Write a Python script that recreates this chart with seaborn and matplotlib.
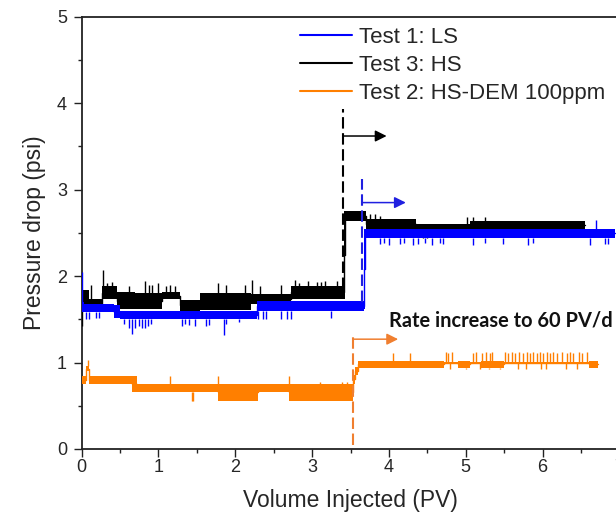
import numpy as np
import pandas as pd
import matplotlib
matplotlib.use("Agg")
import matplotlib.pyplot as plt
import seaborn as sns

# ---------------- data ----------------
# Test 1: LS  (blue) -- band segments: breakpoints, band low, band high
ls_x  = [0.00, 0.03, 0.42, 0.50, 2.28, 3.67, 3.69, 6.95]
ls_lo = [1.58, 1.59, 1.52, 1.50, 1.60, 1.62, 2.44]
ls_hi = [1.70, 1.68, 1.66, 1.60, 1.71, 2.55, 2.55]
ls_up_x = [0.01, 6.70]
ls_up_y = [2.05, 2.65]
ls_dn_x = [0.05, 0.10, 0.18, 0.22, 0.55, 0.62, 0.66, 0.70, 0.74, 0.78, 0.82, 0.86, 0.90,
           1.30, 1.34, 1.40, 1.48, 1.62, 1.66, 1.85, 1.88, 2.05, 2.30, 2.36, 2.40, 2.60,
           2.67, 2.72, 3.24,
           3.89, 3.93, 4.00, 4.15, 4.20, 4.31, 4.38, 4.47, 4.56, 4.66, 4.70, 5.10, 5.25,
           5.48, 5.81, 5.88, 6.62, 6.81, 6.85]
ls_dn_y = [1.50, 1.50, 1.51, 1.51, 1.45, 1.40, 1.33, 1.40, 1.42, 1.40, 1.40, 1.42, 1.45,
           1.42, 1.44, 1.43, 1.42, 1.42, 1.43, 1.32, 1.45, 1.47, 1.50, 1.50, 1.50, 1.50,
           1.50, 1.50, 1.52,
           2.37, 2.38, 2.36, 2.37, 2.38, 2.36, 2.37, 2.38, 2.36, 2.38, 2.37, 2.36, 2.38,
           2.37, 2.36, 2.38, 2.36, 2.37, 2.37]

# Test 3: HS  (black)
hs_x  = [0.00, 0.10, 0.26, 0.46, 0.70, 1.05, 1.28, 1.54, 2.20, 2.72, 3.41, 3.43, 3.70,
         4.35, 5.05, 6.55]
hs_lo = [1.60, 1.61, 1.73, 1.62, 1.62, 1.73, 1.60, 1.61, 1.68, 1.74, 1.74, 2.64, 2.55,
         2.48, 2.53]
hs_hi = [1.84, 1.74, 1.88, 1.81, 1.80, 1.81, 1.72, 1.80, 1.79, 1.88, 2.75, 2.75, 2.66,
         2.60, 2.64]
hs_up_x = [0.12, 0.28, 0.33, 0.40, 0.62, 0.82, 0.88, 0.92, 1.00, 1.10, 1.15, 1.22, 1.78,
           1.88, 2.12, 2.22, 2.32, 2.60, 2.78, 2.83, 2.95, 3.07, 3.12, 3.17, 3.32,
           3.75, 3.82, 3.88, 5.02, 5.10, 5.25]
hs_up_y = [1.90, 2.07, 1.92, 1.93, 1.88, 1.94, 1.90, 1.90, 1.92, 1.88, 1.90, 1.88, 1.92,
           1.90, 1.90, 1.95, 1.88, 1.90, 1.95, 1.92, 1.94, 1.93, 1.93, 1.94, 1.94,
           2.72, 2.72, 2.70, 2.68, 2.68, 2.68]
hs_dn_x = [0.00, 4.45, 4.50]
hs_dn_y = [1.42, 2.44, 2.44]

# Test 2: HS-DEM 100ppm  (orange)
dem_x  = [0.00, 0.06, 0.10, 0.65, 0.72, 1.78, 2.30, 2.70, 3.53, 3.56, 3.60, 4.72, 4.90,
          5.05, 5.20, 5.50, 5.60, 6.60, 6.72]
dem_lo = [0.75, 0.90, 0.75, 0.66, 0.66, 0.56, 0.66, 0.56, 0.75, 0.85, 0.94, 0.99, 0.94,
          0.99, 0.94, 0.99, 0.99, 0.94]
dem_hi = [0.84, 0.96, 0.84, 0.84, 0.75, 0.75, 0.75, 0.75, 0.86, 0.95, 1.02, 1.01, 1.02,
          1.01, 1.02, 1.01, 1.01, 1.02]
dem_up_x = [0.08, 1.15, 1.78, 2.70, 3.10, 3.39, 3.45,
            4.05, 4.27, 4.74, 4.77, 4.82, 5.09, 5.14, 5.21, 5.27, 5.31, 5.34, 5.51, 5.55,
            5.60, 5.64, 5.70, 5.74, 5.80, 5.84, 5.87, 5.93, 5.97, 6.01, 6.06, 6.10, 6.14,
            6.19, 6.25, 6.32, 6.36, 6.40, 6.47, 6.52, 6.58]
dem_up_y = [1.03, 0.84, 0.84, 0.84, 0.78, 0.78, 0.78,
            1.11, 1.11, 1.12, 1.11, 1.12, 1.11, 1.12, 1.11, 1.12, 1.11, 1.12, 1.12, 1.11,
            1.12, 1.11, 1.12, 1.11, 1.12, 1.11, 1.12, 1.11, 1.12, 1.11, 1.12, 1.11, 1.12,
            1.11, 1.12, 1.11, 1.12, 1.11, 1.12, 1.11, 1.12]
dem_dn_x = [0.67, 1.43, 1.45, 4.80, 5.00, 5.18, 5.30, 5.45, 5.68, 5.78, 5.98, 6.05, 6.30,
            6.45]
dem_dn_y = [0.66, 0.56, 0.56, 0.93, 0.93, 0.93, 0.93, 0.93, 0.93, 0.93, 0.93, 0.93, 0.93,
            0.93]

# rate-change markers: x, dashed line span, arrow y, arrow end x
mark_x    = [3.40, 3.65, 3.53]
mark_ylo  = [1.85, 1.70, 0.05]
mark_yhi  = [3.93, 3.12, 1.33]
arrow_y   = [3.62, 2.85, 1.27]
arrow_end = [3.97, 4.22, 4.12]

BLUE, BLACK, ORANGE = "#0000FF", "#000000", "#FF7F00"

# ---------------- figure ----------------
sns.set_theme(style="ticks")
plt.rcParams["font.family"] = ["Liberation Sans", "DejaVu Sans"]

fig = plt.figure(figsize=(6.16, 5.14), dpi=100)
ax = fig.add_axes([0.1326, 0.1265, 0.8728, 0.8410])


def draw_series(x, lo, hi, ux, uy, dx, dy, color, label, z):
    x = np.asarray(x, float)
    lo = np.asarray(lo, float)
    hi = np.asarray(hi, float)
    ax.fill_between(x, np.append(lo, lo[-1]), np.append(hi, hi[-1]), step="post",
                    color=color, lw=0, zorder=z)
    mid = (lo + hi) / 2
    df = pd.DataFrame({"x": x, "y": np.append(mid, mid[-1])})
    sns.lineplot(data=df, x="x", y="y", drawstyle="steps-post", color=color, lw=1.0,
                 label=label, ax=ax, estimator=None, sort=False, zorder=z)
    ui = np.searchsorted(x, ux, side="right") - 1
    ax.vlines(ux, hi[ui], uy, color=color, lw=1.0, zorder=z)
    di = np.searchsorted(x, dx, side="right") - 1
    ax.vlines(dx, lo[di], dy, color=color, lw=1.0, zorder=z)


draw_series(hs_x, hs_lo, hs_hi, hs_up_x, hs_up_y, hs_dn_x, hs_dn_y, BLACK, "Test 3: HS", 3)
draw_series(ls_x, ls_lo, ls_hi, ls_up_x, ls_up_y, ls_dn_x, ls_dn_y, BLUE, "Test 1: LS", 4)
draw_series(dem_x, dem_lo, dem_hi, dem_up_x, dem_up_y, dem_dn_x, dem_dn_y, ORANGE,
            "Test 2: HS-DEM 100ppm", 5)

mark_cols = [BLACK, "#2020E0", "#F07F30"]
for i in range(3):
    ax.plot([mark_x[i], mark_x[i]], [mark_ylo[i], mark_yhi[i]], color=mark_cols[i],
            lw=1.5, ls=(0, (5.5, 2.2)), zorder=6)
    ax.annotate("", xy=(arrow_end[i], arrow_y[i]), xytext=(mark_x[i], arrow_y[i]),
                arrowprops=dict(arrowstyle="-|>", color=mark_cols[i], lw=1.1,
                                mutation_scale=17, shrinkA=0, shrinkB=0), zorder=6)

ax.text(4.0, 1.49, "Rate increase to 60 PV/d", family=["Lato", "DejaVu Sans"],
        fontweight="bold", fontsize=14.4, va="center", ha="left", color="#111111")

ax.set_xlim(0, 7)
ax.set_ylim(0, 5)
ax.set_xticks(range(0, 8))
ax.set_yticks(range(0, 6))
ax.xaxis.set_minor_locator(matplotlib.ticker.MultipleLocator(0.5))
ax.yaxis.set_minor_locator(matplotlib.ticker.MultipleLocator(0.5))
ax.tick_params(which="major", direction="out", length=5.5, width=1.0, labelsize=13,
               color="#222222")
ax.tick_params(which="minor", direction="out", length=3, width=1.0, color="#222222")
ax.tick_params(axis="x", pad=2)
ax.tick_params(axis="y", pad=5)
for s in ax.spines.values():
    s.set_linewidth(1.3)
    s.set_color("#222222")

ax.set_xlabel("Volume Injected (PV)", fontsize=16.5, labelpad=9)
ax.set_ylabel("Pressure drop (psi)", fontsize=16.5, labelpad=8)

handles, labels = ax.get_legend_handles_labels()
order = ["Test 1: LS", "Test 3: HS", "Test 2: HS-DEM 100ppm"]
hmap = dict(zip(labels, handles))
leg = ax.legend([hmap[k] for k in order], order, loc="upper left",
                bbox_to_anchor=(300 / 616, 1 - 27 / 514), bbox_transform=fig.transFigure,
                frameon=False, fontsize=16, handlelength=2.35, handletextpad=0.3,
                labelspacing=0.32, borderpad=0, borderaxespad=0)
for line in leg.get_lines():
    line.set_linewidth(1.5)

fig.savefig("out.png", dpi=100)
